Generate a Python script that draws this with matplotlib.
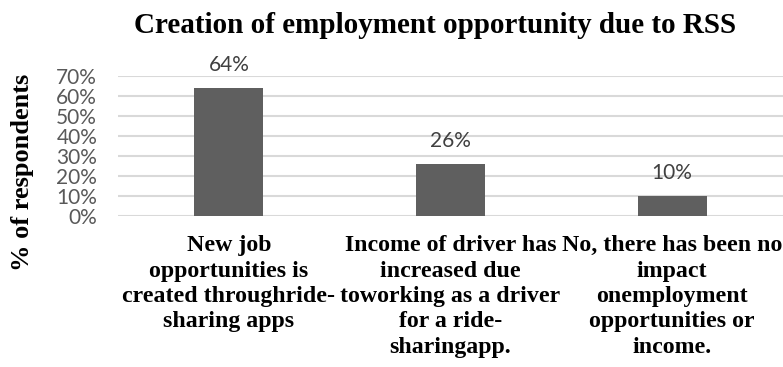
import numpy as np
import matplotlib.pyplot as plt

# datos
categorias = ['New job\nopportunities is\ncreated throughride-\nsharing apps',
              'Income of driver has\nincreased due\ntoworking as a driver\nfor a ride-\nsharingapp.',
              'No, there has been no\nimpact\nonemployment\nopportunities or\nincome.']
valores = [0.64, 0.26, 0.10]
etiquetas = ['64%', '26%', '10%']
yticks = [0, 0.1, 0.2, 0.3, 0.4, 0.5, 0.6, 0.7]

fig = plt.figure(figsize=(7.83, 3.67), dpi=100)
ax = fig.add_axes([118/783, 1-216/367, 1-118/783, (216-76)/367])

x = np.arange(len(valores))
ax.bar(x, valores, width=0.31, color='#5f5f5f', zorder=3)
ax.set_xlim(-0.5, 2.5)
ax.set_ylim(0, 0.7)

ax.set_yticks(yticks)
ax.set_yticklabels(['%d%%' % round(v*100) for v in yticks], fontfamily='Lato',
                   fontsize=15, color='#595959')
ax.set_xticks(x)
ax.set_xticklabels(categorias, fontfamily='Liberation Serif', fontweight='bold',
                   fontsize=17.2, linespacing=1.27)
ax.tick_params(axis='y', length=0, pad=15)
ax.tick_params(axis='x', length=0, pad=14)
ax.grid(axis='y', color='#d9d9d9', lw=1.5, zorder=0)
for s in ax.spines.values():
    s.set_visible(False)

# etiquetas de datos
for xi, v, t in zip(x, valores, etiquetas):
    ax.annotate(t, (xi, v), xytext=(0, 12), textcoords='offset points',
                ha='center', va='baseline', fontfamily='Lato', fontsize=15,
                color='#404040')

fig.text(435/783, 1-33/367, 'Creation of employment opportunity due to RSS',
         ha='center', va='baseline', fontfamily='Liberation Serif',
         fontweight='bold', fontsize=21)
fig.text(23/783, 1-172/367, '% of respondents', rotation=90, ha='center',
         va='center', fontfamily='Liberation Serif', fontweight='bold', fontsize=19)

fig.savefig('out.png', dpi=100)
